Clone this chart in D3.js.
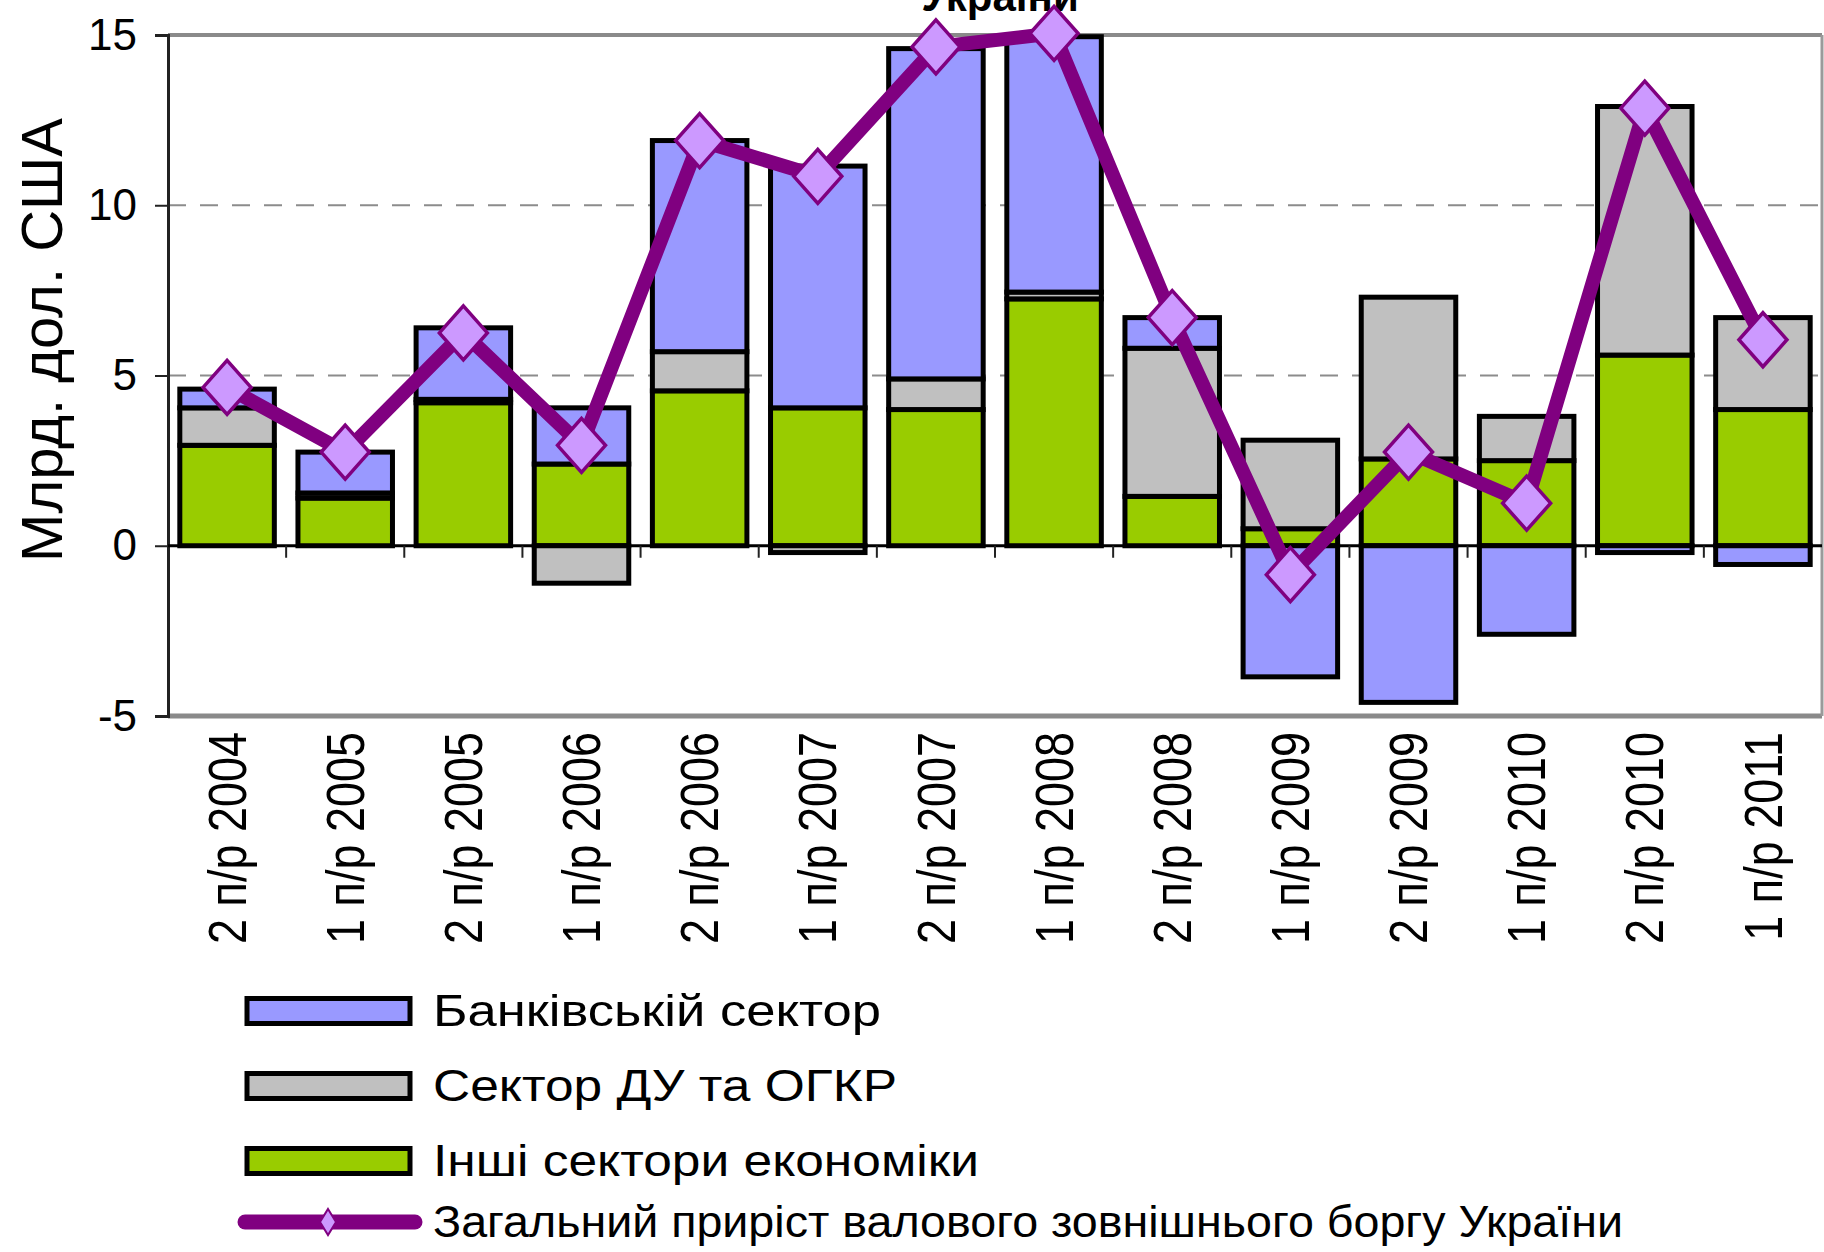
<!DOCTYPE html>
<html>
<head>
<meta charset="utf-8">
<script src="https://cdn.jsdelivr.net/npm/d3@7"></script>
<style>
	body { margin: 0; background: #fff; }
	svg { display: block; font-family: "Liberation Sans", Arial, sans-serif; }
</style>
</head>
<body>
<div id="vis"></div>
<script>

var categories = ["2 п/р 2004", "1 п/р 2005", "2 п/р 2005", "1 п/р 2006", "2 п/р 2006", "1 п/р 2007", "2 п/р 2007",
	"1 п/р 2008", "2 п/р 2008", "1 п/р 2009", "2 п/р 2009", "1 п/р 2010", "2 п/р 2010", "1 п/р 2011"];

// млрд. дол. США
var banking = [0.55, 1.2, 2.1, 1.65, 6.2, 7.1, 9.7, 7.5, 0.9, -3.85, -4.6, -2.6, -0.2, -0.55];
var government = [1.1, 0.15, 0.1, -1.1, 1.15, -0.2, 0.9, 0.2, 4.35, 2.6, 4.75, 1.3, 7.3, 2.7];
var otherSectors = [2.95, 1.4, 4.2, 2.4, 4.55, 4.05, 4.0, 7.25, 1.45, 0.5, 2.55, 2.5, 5.6, 4.0];
var totalGrowth = [4.65, 2.75, 6.25, 2.95, 11.9, 10.85, 14.65, 15.05, 6.7, -0.85, 2.75, 1.25, 12.85, 6.05];

var yTicks = [-5, 0, 5, 10, 15];
var gridTicks = [5, 10];

var seriesNames = ["Банківській сектор", "Сектор ДУ та ОГКР", "Інші сектори економіки",
	"Загальний приріст валового зовнішнього боргу України"];
var seriesColors = ["#9999ff", "#c0c0c0", "#99cc00"];

var W = 1824, H = 1252;
var plotLeft = 168, plotRight = 1822, plotTop = 35, plotBottom = 716;

var svg = d3.select("#vis").append("svg")
	.attr("width", W)
	.attr("height", H);

var rows = categories.map(function (c, i) {
	return {cat: c, bank: banking[i], gov: government[i], other: otherSectors[i], total: totalGrowth[i]};
});

var x = d3.scaleBand()
	.domain(categories)
	.range([plotLeft, plotRight])
	.paddingInner(0.2)
	.paddingOuter(0.1);

var y = d3.scaleLinear()
	.domain([-5, 15])
	.range([plotBottom, plotTop]);

// green sits on zero, then grey, then blue
var keys = ["other", "gov", "bank"];
var keyColor = {other: seriesColors[2], gov: seriesColors[1], bank: seriesColors[0]};

var stacked = d3.stack()
	.keys(keys)
	.offset(d3.stackOffsetDiverging)(rows);

// title, mostly cut off by the top of the picture
svg.append("text")
	.attr("x", 1000)
	.attr("y", 11)
	.attr("text-anchor", "middle")
	.attr("font-size", 42)
	.attr("font-weight", "bold")
	.text("України");

// dashed grid
svg.selectAll(".grid")
	.data(gridTicks)
	.enter()
	.append("line")
	.attr("class", "grid")
	.attr("x1", plotLeft)
	.attr("x2", plotRight)
	.attr("y1", function (d) { return y(d); })
	.attr("y2", function (d) { return y(d); })
	.attr("stroke", "#8c8c8c")
	.attr("stroke-width", 2)
	.attr("stroke-dasharray", "18,14");

// plot border
svg.append("line")
	.attr("x1", plotLeft).attr("x2", plotRight)
	.attr("y1", y(15)).attr("y2", y(15))
	.attr("stroke", "#8a8a8a").attr("stroke-width", 4);
svg.append("line")
	.attr("x1", plotLeft).attr("x2", plotRight)
	.attr("y1", y(-5)).attr("y2", y(-5))
	.attr("stroke", "#8a8a8a").attr("stroke-width", 5);
svg.append("line")
	.attr("x1", plotRight).attr("x2", plotRight)
	.attr("y1", y(15)).attr("y2", y(-5))
	.attr("stroke", "#9a9a9a").attr("stroke-width", 3);

// stacked bars
var layers = svg.selectAll(".layer")
	.data(stacked)
	.enter()
	.append("g")
	.attr("class", "layer")
	.attr("fill", function (d) { return keyColor[d.key]; });

layers.selectAll("rect")
	.data(function (d) { return d; })
	.enter()
	.append("rect")
	.attr("x", function (d) { return x(d.data.cat); })
	.attr("width", x.bandwidth())
	.attr("y", function (d) { return y(Math.max(d[0], d[1])); })
	.attr("height", function (d) { return Math.abs(y(d[0]) - y(d[1])); })
	.attr("stroke", "#000")
	.attr("stroke-width", 5);

// y axis
var yAxis = d3.axisLeft(y)
	.tickValues(yTicks)
	.tickSize(13)
	.tickPadding(18)
	.tickFormat(function (d) { return String(d); });

var gy = svg.append("g")
	.attr("transform", "translate(" + plotLeft + ",0)")
	.call(yAxis);
gy.select(".domain").attr("stroke", "#222").attr("stroke-width", 3);
gy.selectAll(".tick line").attr("stroke", "#222").attr("stroke-width", 2);
gy.selectAll(".tick text")
	.attr("font-size", 44)
	.attr("font-family", "'Liberation Sans', Arial, sans-serif")
	.attr("fill", "#000");

// zero line with category ticks
svg.append("line")
	.attr("x1", plotLeft).attr("x2", plotRight)
	.attr("y1", y(0)).attr("y2", y(0))
	.attr("stroke", "#000").attr("stroke-width", 3);

var step = x.step();
svg.selectAll(".xtick")
	.data(d3.range(1, categories.length))
	.enter()
	.append("line")
	.attr("class", "xtick")
	.attr("x1", function (i) { return x(categories[i]) - (step - x.bandwidth()) / 2; })
	.attr("x2", function (i) { return x(categories[i]) - (step - x.bandwidth()) / 2; })
	.attr("y1", y(0))
	.attr("y2", y(0) + 12)
	.attr("stroke", "#222")
	.attr("stroke-width", 2);

// category labels, stretched a little like the original
svg.selectAll(".xlabel")
	.data(categories)
	.enter()
	.append("text")
	.attr("class", "xlabel")
	.attr("transform", function (d) {
		return "translate(" + (x(d) + x.bandwidth() / 2) + "," + 732 + ") scale(1.18,1) rotate(-90)";
	})
	.attr("text-anchor", "end")
	.attr("dy", "0.35em")
	.attr("font-size", 45)
	.text(function (d) { return d; });

// y title
svg.append("text")
	.attr("transform", "translate(62,340) rotate(-90)")
	.attr("text-anchor", "middle")
	.attr("font-size", 58)
	.text("Млрд. дол. США");

// total growth line
var line = d3.line()
	.x(function (d) { return x(d.cat) + x.bandwidth() / 2; })
	.y(function (d) { return y(d.total); });

svg.append("path")
	.datum(rows)
	.attr("d", line)
	.attr("fill", "none")
	.attr("stroke", "#800080")
	.attr("stroke-width", 14)
	.attr("stroke-linejoin", "round");

var diamond = "M0,-27L24,0L0,27L-24,0Z";

svg.selectAll(".marker")
	.data(rows)
	.enter()
	.append("path")
	.attr("class", "marker")
	.attr("d", diamond)
	.attr("transform", function (d) {
		return "translate(" + (x(d.cat) + x.bandwidth() / 2) + "," + y(d.total) + ")";
	})
	.attr("fill", "#cc99ff")
	.attr("stroke", "#800080")
	.attr("stroke-width", 3.5);

// legend
var legendY = [1011, 1086, 1161, 1222];
var legendLen = [448, 464, 546, 1190];

var lg = svg.append("g");

seriesColors.forEach(function (c, i) {
	lg.append("rect")
		.attr("x", 247)
		.attr("y", legendY[i] - 12.5)
		.attr("width", 163)
		.attr("height", 25)
		.attr("fill", c)
		.attr("stroke", "#000")
		.attr("stroke-width", 5);
});

lg.append("line")
	.attr("x1", 245).attr("x2", 415)
	.attr("y1", legendY[3]).attr("y2", legendY[3])
	.attr("stroke", "#800080")
	.attr("stroke-width", 15)
	.attr("stroke-linecap", "round");

lg.append("path")
	.attr("d", "M0,-13L8,0L0,13L-8,0Z")
	.attr("transform", "translate(328," + legendY[3] + ")")
	.attr("fill", "#cc99ff")
	.attr("stroke", "#800080")
	.attr("stroke-width", 2);

lg.selectAll(".ltext")
	.data(seriesNames)
	.enter()
	.append("text")
	.attr("class", "ltext")
	.attr("x", 433)
	.attr("y", function (d, i) { return legendY[i]; })
	.attr("dy", "0.35em")
	.attr("font-size", 44)
	.attr("textLength", function (d, i) { return legendLen[i]; })
	.attr("lengthAdjust", "spacingAndGlyphs")
	.text(function (d) { return d; });

</script>
</body>
</html>
